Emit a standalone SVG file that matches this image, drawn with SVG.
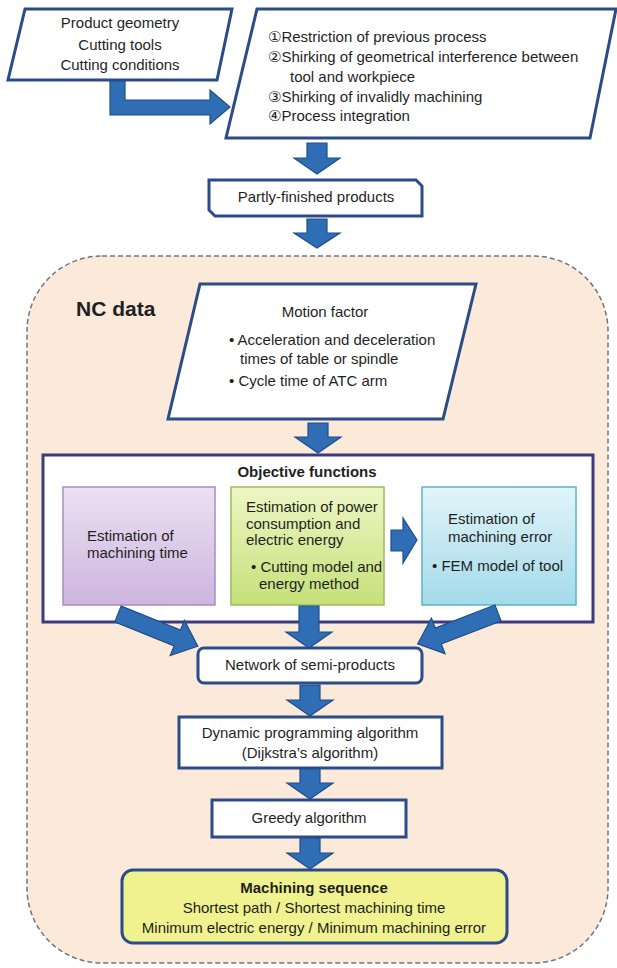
<svg xmlns="http://www.w3.org/2000/svg" width="617" height="968" viewBox="0 0 617 968">
<defs>
<style>
text{font-family:"Liberation Sans","DejaVu Sans","Noto Sans CJK JP",sans-serif;font-size:15px;fill:#1f1f1f}
.c{text-anchor:middle}
.b{font-weight:bold}
.box{fill:#fff;stroke:#2b4c88;stroke-width:3;stroke-linejoin:miter}
.arr{fill:#2f6db5;stroke:#1e4d8c;stroke-width:1.2;stroke-linejoin:miter}
</style>
<linearGradient id="gP" x1="0" y1="0" x2="0" y2="1"><stop offset="0" stop-color="#ece0f2"/><stop offset="1" stop-color="#cdb5df"/></linearGradient>
<linearGradient id="gG" x1="0" y1="0" x2="0" y2="1"><stop offset="0" stop-color="#eef6c4"/><stop offset="1" stop-color="#c5e07a"/></linearGradient>
<linearGradient id="gC" x1="0" y1="0" x2="0" y2="1"><stop offset="0" stop-color="#e2f4f9"/><stop offset="1" stop-color="#a3dae9"/></linearGradient>
</defs>
<rect id="ncdata" x="27" y="256" width="581" height="707" rx="75" ry="75" fill="#fbe9da" stroke="#6f7480" stroke-width="1.5" stroke-dasharray="5,3"/>
<text x="76" y="316" class="b" style="font-size:21px">NC data</text>

<g id="inputs">
<polygon class="box" points="25,9 232,9 217,80 8,80"/>
<text x="120" y="28" class="c">Product geometry</text>
<text x="120" y="50" class="c">Cutting tools</text>
<text x="120" y="70" class="c">Cutting conditions</text>
</g>
<g id="rules">
<polygon class="box" points="257,9 616,9 590,138 226,138"/>
<text x="268" y="42">①Restriction of previous process</text>
<text x="268" y="62">②Shirking of geometrical interference between</text>
<text x="290" y="82">tool and workpiece</text>
<text x="268" y="102">③Shirking of invalidly machining</text>
<text x="268" y="121">④Process integration</text>
</g>
<g id="partly">
<polygon class="box" points="209,180 416,180 422,186 422,216 215,216 209,210"/>
<text x="316" y="202" class="c">Partly-finished products</text>
</g>
<g id="motion">
<polygon class="box" points="200,284 476,284 443,419 168,419"/>
<text x="325" y="317" class="c">Motion factor</text>
<text x="229" y="345">• Acceleration and deceleration</text>
<text x="240" y="364">times of table or spindle</text>
<text x="229" y="386">• Cycle time of ATC arm</text>
</g>
<g id="objective">
<rect x="43" y="455" width="550" height="167" fill="#fff" stroke="#3b3b7e" stroke-width="3"/>
<text x="307" y="477" class="c b">Objective functions</text>
</g>
<g id="time">
<rect x="63" y="487" width="152" height="118" fill="url(#gP)" stroke="#a68ec2" stroke-width="1.5"/>
<text x="87" y="541">Estimation of</text>
<text x="87" y="558">machining time</text>
</g>
<g id="power">
<rect x="231" y="487" width="153" height="118" fill="url(#gG)" stroke="#9cbc5a" stroke-width="1.5"/>
<text x="246" y="512">Estimation of power</text>
<text x="246" y="529">consumption and</text>
<text x="246" y="545">electric energy</text>
<text x="251" y="572">• Cutting model and</text>
<text x="259" y="589">energy method</text>
</g>
<g id="error">
<rect x="422" y="487" width="154" height="118" fill="url(#gC)" stroke="#5bb4cc" stroke-width="1.5"/>
<text x="448" y="524">Estimation of</text>
<text x="448" y="542">machining error</text>
<text x="432" y="571">• FEM model of tool</text>
</g>
<g id="network">
<rect class="box" x="198" y="648" width="224" height="35" rx="6" ry="6"/>
<text x="310" y="670" class="c">Network of semi-products</text>
</g>
<g id="dp">
<rect class="box" x="179" y="717" width="263" height="51"/>
<text x="310" y="738" class="c">Dynamic programming algorithm</text>
<text x="310" y="758" class="c">(Dijkstra’s algorithm)</text>
</g>
<g id="greedy">
<rect class="box" x="212" y="800" width="194" height="37"/>
<text x="309" y="823" class="c">Greedy algorithm</text>
</g>
<g id="sequence">
<rect x="122" y="870" width="385" height="73" rx="11" ry="11" fill="#eff28e" stroke="#2b4c88" stroke-width="3"/>
<text x="314" y="893" class="c b">Machining sequence</text>
<text x="314" y="913" class="c">Shortest path / Shortest machining time</text>
<text x="314" y="933" class="c">Minimum electric energy / Minimum machining error</text>
</g>
<g id="connectors">
<path class="arr" d="M110,81 H125 V100 H210 V90 L230,107 L210,124 V115 H110 Z"/>
<path class="arr" d="M307,143 H327 V158 H340 L317,174 L294,158 H307 Z"/>
<path class="arr" d="M307,219 H327 V233 H340 L317,248 L294,233 H307 Z"/>
<path class="arr" d="M308,423 H328 V437 H341 L318,453 L295,437 H308 Z"/>
<path class="arr" d="M391,530 H403 V518 L417,540 L403,563 V551 H391 Z"/>
<path class="arr" d="M299,606 H319 V632 H332 L309,648 L286,632 H299 Z"/>
<path class="arr" d="M0,-8.5 H64 V-19 L86,0 L64,19 V8.5 H0 Z" transform="translate(118,614) rotate(22)"/>
<path class="arr" d="M0,-8.5 H64 V-19 L86,0 L64,19 V8.5 H0 Z" transform="translate(498,613) rotate(159)"/>
<path class="arr" d="M300,685 H320 V700 H333 L310,716 L287,700 H300 Z"/>
<path class="arr" d="M300,769 H320 V783 H333 L310,799 L287,783 H300 Z"/>
<path class="arr" d="M300,838 H320 V853 H333 L310,869 L287,853 H300 Z"/>
</g>
</svg>
